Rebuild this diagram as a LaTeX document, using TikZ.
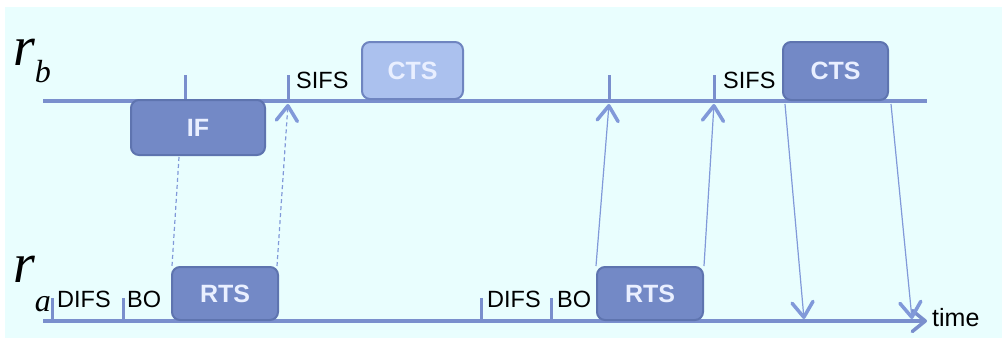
\documentclass[tikz,border=0pt]{standalone}
\usepackage{fontspec}
\setmainfont{Liberation Serif}
\setsansfont{Liberation Sans}
\usetikzlibrary{arrows.meta,calc}

\definecolor{bgcyan}{HTML}{E9FEFE}
\definecolor{axis}{HTML}{7A8FCD}
\definecolor{link}{HTML}{8199D9}
\definecolor{pktfill}{HTML}{7389C6}
\definecolor{pktdraw}{HTML}{5E74AF}
\definecolor{ctsfill}{HTML}{ABC1EE}
\definecolor{ctsdraw}{HTML}{6F85C0}
\definecolor{pkttext}{HTML}{E9EFFF}

\tikzset{
  vee/.tip={Straight Barb[length=15pt,width=21pt,line width=3.5pt,round]},
  timeline/.style={draw=axis,line width=3.5pt},
  tickmark/.style={draw=axis,line width=3pt},
  packet/.style={draw=pktdraw,fill=pktfill,line width=2pt,rounded corners=8pt,
    text=pkttext,font=\sffamily\bfseries\fontsize{25}{25}\selectfont,inner sep=0pt},
  lightpacket/.style={packet,draw=ctsdraw,fill=ctsfill},
  label/.style={font=\sffamily\fontsize{23.5}{23.5}\selectfont,inner sep=0pt,anchor=base west},
  signal/.style={draw=link,line width=1.2pt},
  weak/.style={signal,dashed,dash pattern=on 4pt off 3pt},
}

\begin{document}
\begin{tikzpicture}[x=1pt,y=-1pt]
  % canvas
  \useasboundingbox (0,0) rectangle (1002,338);
  \fill[bgcyan] (5,7) rectangle (1002,338);

  % station labels
  \node[inner sep=0pt,anchor=base west] (rb) at (13,65)
    {\fontsize{56}{56}\selectfont\itshape r\raisebox{-17pt}{\fontsize{32}{32}\selectfont b}};
  \node[inner sep=0pt,anchor=base west] (ra) at (13,282)
    {\fontsize{56}{56}\selectfont\itshape r\raisebox{-29pt}{\fontsize{32}{32}\selectfont a}};

  % time axes
  \coordinate (bstart) at (43,101);
  \coordinate (bend) at (927,101);
  \coordinate (astart) at (43,321);
  \coordinate (aend) at (927,321);
  \draw[timeline] (bstart) -- (bend);
  \draw[timeline,-{Straight Barb[length=13pt,width=21pt,line width=3.5pt,round]}] (astart) -- (aend);
  \node[font=\sffamily\fontsize{25}{25}\selectfont,inner sep=0pt,anchor=base west] (time) at (932,326) {time};

  % tick marks on r_b
  \coordinate (b1) at (185,101);
  \coordinate (b2) at (288,101);
  \coordinate (b3) at (609,101);
  \coordinate (b4) at (714,101);
  \foreach \t in {b1,b2,b3,b4}
    \draw[tickmark] (\t) -- ++(0,-26);

  % tick marks on r_a
  \coordinate (a1) at (52,321);
  \coordinate (a2) at (123,321);
  \coordinate (a3) at (481,321);
  \coordinate (a4) at (551,321);
  \foreach \t in {a1,a2,a3,a4}
    \draw[tickmark] (\t) -- ++(0,-23);

  % interval labels
  \node[label] (sifs1) at (296,88) {SIFS};
  \node[label] (sifs2) at (723,88) {SIFS};
  \node[label] (difs1) at (57,307) {DIFS};
  \node[label] (bo1) at (127,307) {BO};
  \node[label] (difs2) at (487,307) {DIFS};
  \node[label] (bo2) at (557,307) {BO};

  % frames
  \node[packet,minimum width=134pt,minimum height=55pt] (if) at (198,127.5) {IF};
  \node[lightpacket,minimum width=101pt,minimum height=57pt] (cts1) at (412.5,70.5) {CTS};
  \node[packet,minimum width=105pt,minimum height=58pt] (cts2) at (835.5,71) {CTS};
  \node[packet,minimum width=106pt,minimum height=53pt] (rts1) at (225,293.5) {RTS};
  \node[packet,minimum width=106pt,minimum height=53pt] (rts2) at (650,293.5) {RTS};

  % first exchange (interfered)
  \draw[weak] ($(if.south west)+(49,1)$) -- ($(rts1.north west)+(1,0)$);
  \draw[weak,-vee] ($(rts1.north east)+(-2,0)$) -- ($(b2)+(0,3)$);

  % second exchange
  \draw[signal,-vee] (rts2.north west) -- ($(b3)+(0,3)$);
  \draw[signal,-vee] (rts2.north east) -- ($(b4)+(0,3)$);
  \coordinate (d1) at (804,319);
  \coordinate (d2) at (912,319);
  \draw[signal,-vee] ($(cts2.south west)+(3,3)$) -- (d1);
  \draw[signal,-vee] ($(cts2.south east)+(2,3)$) -- (d2);
\end{tikzpicture}
\end{document}
